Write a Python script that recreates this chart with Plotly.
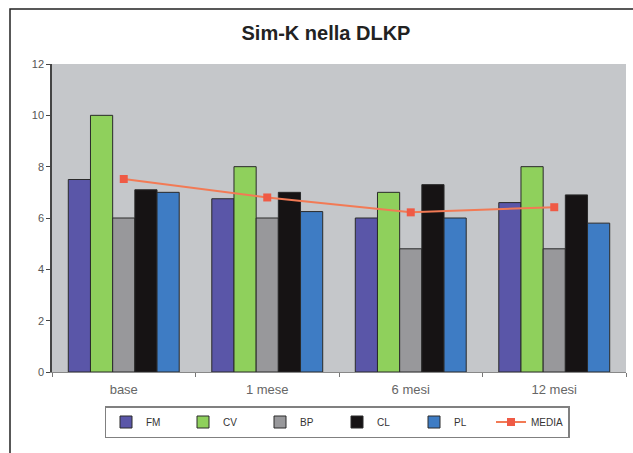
import plotly.graph_objects as go

categories = ["base", "1 mese", "6 mesi", "12 mesi"]
FM = [7.5, 6.75, 6.0, 6.6]
CV = [10.0, 8.0, 7.0, 8.0]
BP = [6.0, 6.0, 4.8, 4.8]
CL = [7.1, 7.0, 7.3, 6.9]
PL = [7.0, 6.25, 6.0, 5.8]
MEDIA = [7.52, 6.8, 6.22, 6.42]

series = [("FM", FM, "#5a56a8"), ("CV", CV, "#8fd05c"), ("BP", BP, "#98989b"),
          ("CL", CL, "#161314"), ("PL", PL, "#3e7cc4")]

fig = go.Figure()
for name, vals, col in series:
    fig.add_trace(go.Bar(x=categories, y=vals, name=name, marker_color=col,
                         marker_line=dict(color="#2a2a2a", width=1)))
fig.add_trace(go.Scatter(x=categories, y=MEDIA, name="MEDIA", mode="lines+markers",
                         line=dict(color="#f27a55", width=2),
                         marker=dict(color="#ef5a45", size=8, symbol="square")))

W, H = 633, 453
L, R, T, B = 52, 7, 64, 81
pw, ph = W - L - R, H - T - B

def px(x):
    return (x - L) / pw

def py(y):
    return (H - B - y) / ph

fig.update_layout(
    width=W, height=H,
    margin=dict(l=L, r=R, t=T, b=B, autoexpand=False),
    paper_bgcolor="white",
    plot_bgcolor="#c5c7ca",
    barmode="group", bargap=0.227, bargroupgap=0,
    font=dict(family="Liberation Sans, Arial, sans-serif", color="#555555", size=12),
    title=dict(text="<b>Sim-K nella DLKP</b>", xref="container", x=326 / W, xanchor="center",
               yref="container", y=1 - 33 / H, yanchor="middle",
               font=dict(size=20, color="#222222", family="Liberation Sans, Arial, sans-serif")),
    showlegend=True,
    legend=dict(orientation="h", x=px(337), xanchor="center", y=py(406), yanchor="top",
                bgcolor="white", bordercolor="#808080", borderwidth=1.5,
                font=dict(size=10, color="#333333"), entrywidth=32, itemwidth=30,
                traceorder="normal"),
    xaxis=dict(showgrid=False, showline=True, linecolor="#888888", linewidth=1,
               ticks="outside", tickson="boundaries", ticklen=4, tickcolor="#777777",
               ticklabelstandoff=5,
               tickfont=dict(size=13, color="#666666")),
    yaxis=dict(range=[0, 12], dtick=2, showgrid=False, showline=True,
               linecolor="#444444", linewidth=1.5, ticks="outside", ticklen=4,
               tickcolor="#444444", zeroline=False,
               tickfont=dict(size=11, color="#555555")),
    shapes=[dict(type="rect", xref="paper", yref="paper",
                 x0=px(10), x1=px(W + 20), y0=py(H + 20), y1=py(9),
                 line=dict(color="#222222", width=1.5), fillcolor="rgba(0,0,0,0)",
                 layer="below")],
)

fig.write_html("out.html")
